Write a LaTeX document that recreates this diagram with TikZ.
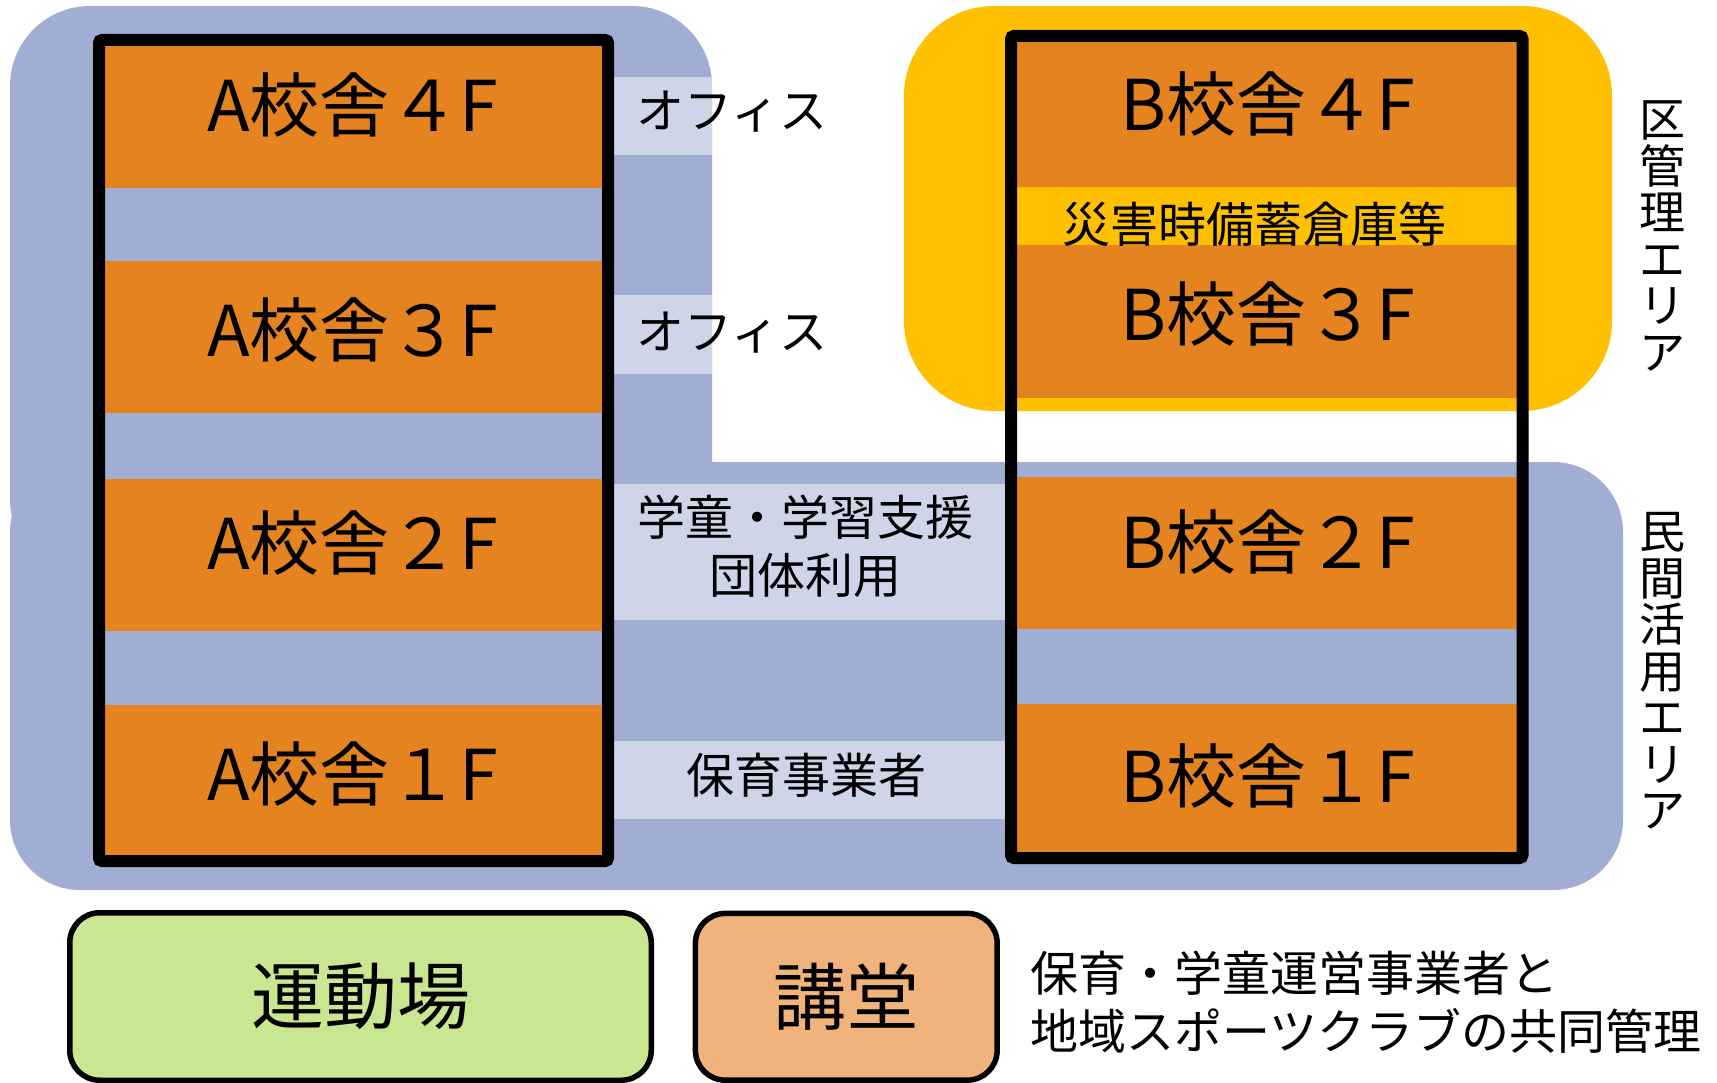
\documentclass[tikz,border=0pt]{standalone}
\usepackage{fontspec}
\setmainfont{Noto Sans CJK JP}
\usepackage{xcolor}
\usepackage{tikz}
\definecolor{AreaBlue}{HTML}{9FAED2}
\definecolor{LightBlue}{HTML}{CED5E9}
\definecolor{FloorOrange}{HTML}{E58321}
\definecolor{AreaYellow}{HTML}{FFC000}
\definecolor{FieldGreen}{HTML}{C9E691}
\definecolor{HallPeach}{HTML}{F0B37B}

\begin{document}
\begin{tikzpicture}[x=1pt, y=-1pt,
  floor/.style={font=\fontsize{70}{84}\selectfont, inner sep=0pt},
  usage/.style={font=\fontsize{48}{58}\selectfont, inner sep=0pt},
  vlabel/.style={font=\fontsize{46}{46.5}\selectfont, align=center, inner sep=0pt},
  building/.style={draw=black, line width=12pt, rounded corners=3pt},
  facility/.style={draw=black, line width=5.5pt, rounded corners=30pt, inner sep=0pt,
    font=\fontsize{73}{84}\selectfont}
]
\useasboundingbox (0,0) rectangle (1717,1083);

% areas
\fill[AreaBlue, rounded corners=80pt] (10,6) rectangle (712,579);
\fill[AreaBlue, rounded corners=70pt] (10,462) rectangle (1623,890);
\fill[AreaYellow, rounded corners=90pt] (904,6) rectangle (1612,411);

% light strips
\fill[LightBlue] (608,77) rectangle (712,155);
\fill[LightBlue] (608,295) rectangle (712,374);
\fill[LightBlue] (608,484) rectangle (1008,620);
\fill[LightBlue] (608,741) rectangle (1008,819);

% floors
\foreach \n/\d/\ya/\yb/\ty in {4/４/46/188/105, 3/３/261/413/330, 2/２/479/631/543, 1/１/705/856/774}
{
  \fill[FloorOrange] (99,\ya) rectangle (608,\yb);
  \node[floor] (A\n) at (353,\ty) {A校舎\d F};
}
\foreach \n/\d/\ya/\yb/\ty in {4/４/42/187/104, 3/３/245/398/314, 2/２/477/629/542, 1/１/704/852/776}
{
  \fill[FloorOrange] (1011,\ya) rectangle (1522,\yb);
  \node[floor] (B\n) at (1268,\ty) {B校舎\d F};
}
\draw[building] (99,40) rectangle (608,861);
\draw[building] (1011,36) rectangle (1522.5,858);

\node[usage, anchor=west] (office4) at (636,112) {オフィス};
\node[usage, anchor=west] (office3) at (636,333) {オフィス};
\node[usage, align=center] (gakudo) at (805,546) {学童・学習支援\\団体利用};
\node[usage] (hoiku) at (806,775) {保育事業者};
\node[usage] (bichiku) at (1254,224) {災害時備蓄倉庫等};

\node[vlabel] (kuArea) at (1662,236) {区\\管\\理\\エ\\リ\\ア};
\node[vlabel] (minArea) at (1662,671) {民\\間\\活\\用\\エ\\リ\\ア};

% facilities
\node[facility, fill=FieldGreen, minimum width=581.5pt, minimum height=167.5pt] (field) at (360.5,996.5) {運動場};
\node[facility, fill=HallPeach, minimum width=301.8pt, minimum height=166.8pt] (hall) at (846.3,996.8) {講堂};
\node[usage, anchor=west, align=left] (joint) at (1030,1002) {保育・学童運営事業者と\\地域スポーツクラブの共同管理};

\end{tikzpicture}
\end{document}
